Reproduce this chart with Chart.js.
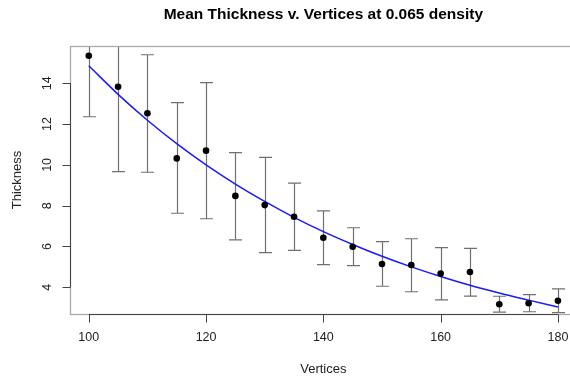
<!DOCTYPE html>
<html><head><meta charset="utf-8">
<script src="https://cdn.jsdelivr.net/npm/chart.js@4/dist/chart.umd.min.js"></script>
<style>html,body{margin:0;padding:0;overflow:hidden;background:#fff;width:570px;height:376px}#wrap{position:absolute;left:0;top:0;width:640px;height:376px}</style>
</head><body><div id="wrap"><canvas id="c" width="640" height="376"></canvas></div>
<script>
const vertices = [100,105,110,115,120,125,130,135,140,145,150,155,160,165,170,175,180];
const meanThickness = [15.35,13.83,12.53,10.32,10.70,8.48,8.03,7.46,6.43,5.99,5.14,5.09,4.67,4.75,3.17,3.22,3.34];
const upperBar = [18.3,18.0,15.40,13.05,14.03,10.60,10.37,9.11,7.75,6.92,6.24,6.38,5.94,5.91,3.56,3.64,3.92];
const lowerBar = [12.36,9.67,9.64,7.63,7.36,6.32,5.70,5.81,5.11,5.06,4.05,3.78,3.38,3.57,2.78,2.80,2.76];
const fitX = [100,105,110,115,120,125,130,135,140,145,150,155,160,165,170,175,180];
const fitY = [14.86,13.46,12.19,11.04,10.00,9.06,8.21,7.43,6.73,6.10,5.52,5.00,4.53,4.10,3.72,3.37,3.03];
const xTicks = [100,120,140,160,180];
const yTicks = [4,6,8,10,12,14];

const FONT = "'Liberation Sans', Arial, Helvetica, sans-serif";

const extras = {
  id: 'extras',
  beforeDatasetsDraw(chart) {
    const {ctx, chartArea: a, scales: {x, y}} = chart;
    ctx.save();
    ctx.beginPath(); ctx.rect(a.left, a.top, a.right - a.left, a.bottom - a.top); ctx.clip();
    ctx.strokeStyle = '#707070'; ctx.lineWidth = 1.2;
    vertices.forEach((v, i) => {
      const px = Math.round(x.getPixelForValue(v)) + 0.5;
      const t = y.getPixelForValue(upperBar[i]);
      const b = y.getPixelForValue(lowerBar[i]);
      ctx.beginPath();
      ctx.moveTo(px, t); ctx.lineTo(px, b);
      ctx.moveTo(px - 6.5, t); ctx.lineTo(px + 6.5, t);
      ctx.moveTo(px - 6.5, b); ctx.lineTo(px + 6.5, b);
      ctx.stroke();
    });
    ctx.restore();
  },
  afterDraw(chart) {
    const {ctx, chartArea: a, scales: {x, y}} = chart;
    ctx.save();
    ctx.strokeStyle = '#aaaaaa'; ctx.lineWidth = 1.3;
    ctx.strokeRect(Math.round(a.left) + 0.5, Math.round(a.top) + 0.5, a.right - a.left, Math.round(a.bottom - a.top));
    ctx.strokeStyle = '#444'; ctx.lineWidth = 1;
    const by = Math.round(a.bottom) + 0.5, lx = Math.round(a.left) + 0.5;
    ctx.beginPath();
    ctx.moveTo(x.getPixelForValue(xTicks[0]), by); ctx.lineTo(x.getPixelForValue(xTicks[xTicks.length-1]), by);
    xTicks.forEach(v => { const p = Math.round(x.getPixelForValue(v)) + 0.5; ctx.moveTo(p, by); ctx.lineTo(p, by + 8); });
    ctx.moveTo(lx, y.getPixelForValue(yTicks[0])); ctx.lineTo(lx, y.getPixelForValue(yTicks[yTicks.length-1]));
    yTicks.forEach(v => { const p = Math.round(y.getPixelForValue(v)) + 0.5; ctx.moveTo(lx, p); ctx.lineTo(lx - 8, p); });
    ctx.stroke();
    ctx.fillStyle = '#222'; ctx.font = '12.5px ' + FONT;
    ctx.textAlign = 'center'; ctx.textBaseline = 'middle';
    xTicks.forEach(v => ctx.fillText(String(v), x.getPixelForValue(v), 338));
    yTicks.forEach(v => {
      ctx.save(); ctx.translate(48, y.getPixelForValue(v)); ctx.rotate(-Math.PI / 2);
      ctx.fillText(String(v), 0, 0); ctx.restore();
    });
    ctx.font = '13px ' + FONT;
    ctx.fillText('Vertices', (a.left + a.right) / 2, 369);
    ctx.save(); ctx.translate(17, (a.top + a.bottom) / 2); ctx.rotate(-Math.PI / 2);
    ctx.fillText('Thickness', 0, 0); ctx.restore();
    ctx.restore();
  }
};

new Chart(document.getElementById('c'), {
  type: 'scatter',
  data: {
    datasets: [
      {
        label: 'Fit',
        data: fitX.map((v, i) => ({x: v, y: fitY[i]})),
        showLine: true, borderColor: '#1a1aff', borderWidth: 1.5,
        pointRadius: 0, cubicInterpolationMode: 'monotone', fill: false, order: 2
      },
      {
        label: 'Mean thickness',
        data: vertices.map((v, i) => ({x: v, y: meanThickness[i]})),
        backgroundColor: '#000', borderColor: '#000', pointRadius: 3.3, pointBorderWidth: 0, order: 1
      }
    ]
  },
  options: {
    responsive: false, animation: false,
    layout: {padding: {left: 0, right: 63.3, top: 0, bottom: 0}},
    plugins: {
      legend: {display: false}, tooltip: {enabled: false},
      title: {display: true, fullSize: false, text: 'Mean Thickness v. Vertices at 0.065 density',
        color: '#000', font: {family: FONT, size: 15.5, weight: 'bold', lineHeight: 1.2},
        padding: {top: 5, bottom: 22.4}}
    },
    scales: {
      x: {type: 'linear', min: 96.8, max: 183.2,
        ticks: {display: false, stepSize: 20, includeBounds: false},
        grid: {display: false}, border: {display: false},
        afterFit(s) { s.height = 62; }},
      y: {type: 'linear', min: 2.69, max: 15.83,
        ticks: {display: false, stepSize: 2, includeBounds: false},
        grid: {display: false}, border: {display: false},
        afterFit(s) { s.width = 70; }}
    }
  },
  plugins: [extras]
});
</script></body></html>
